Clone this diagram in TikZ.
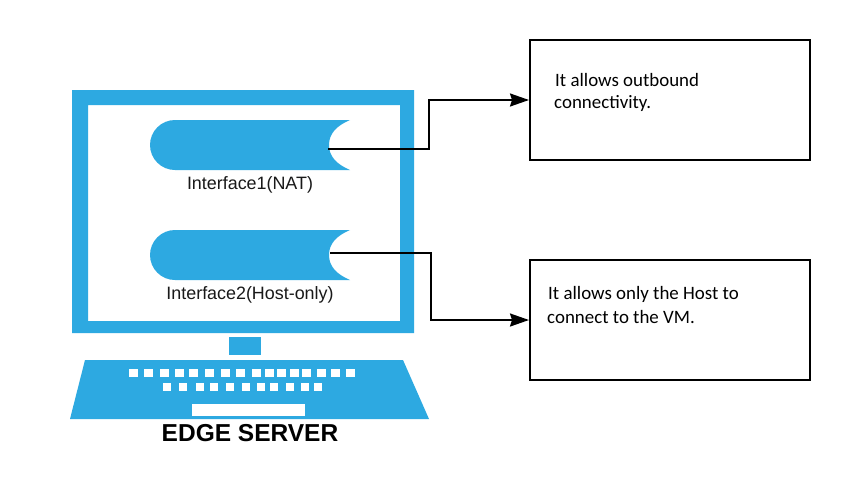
\documentclass[tikz,border=0pt]{standalone}
\usepackage{fontspec}
\setmainfont{Liberation Sans}
\newfontfamily\boxfont{Carlito}
\usetikzlibrary{arrows.meta,positioning}
\definecolor{srvblue}{HTML}{2DA9E1}
\tikzset{
  x=1pt,y=-1pt,
  blueshape/.style={fill=srvblue,draw=none},
  keycap/.style={fill=white,draw=none},
  infobox/.style={draw=black,line width=2pt,fill=white,minimum width=280pt,minimum height=120pt,inner sep=0pt,outer sep=0pt,anchor=north west},
  boxtext/.style={inner sep=0pt,anchor=west,font=\boxfont\fontsize{18.9}{22}\selectfont},
  ifacelabel/.style={inner sep=0pt,font=\fontsize{17.9}{21}\selectfont,text=black!90},
  link/.style={draw=black,line width=2pt,shorten >=1pt,-{Stealth[length=19pt,width=13pt,inset=2pt]}},
}
\begin{document}
\begin{tikzpicture}
\useasboundingbox (0,0) rectangle (850,490);
\fill[white] (0,0) rectangle (850,490);
% monitor
\fill[blueshape,even odd rule] (72,90) rectangle (414,333) (88,105) rectangle (400,321);
\fill[blueshape] (229,337) rectangle (261,355);
% keyboard
\fill[blueshape] (85,360) -- (403,360) -- (429,419) -- (70,419) -- cycle;
\foreach \k in {129,144,160,175,189,205,221,236,252,265,277,290,302,317,331,346}
  \fill[keycap] (\k,369) rectangle +(9,8);
\foreach \k in {163,179,196,210,226,242,257,270,286,301,314}
  \fill[keycap] (\k,383) rectangle +(8,8);
\fill[keycap] (192,404) rectangle (305,416);
% interfaces
\begin{scope}[shift={(0,120)}]
\fill[srvblue] (175,0) arc[start angle=270,end angle=90,radius=25] -- (350,50)
  .. controls (336,44) and (329,36) .. (329,25) .. controls (329,14) and (336,6) .. (350,0) -- cycle;
\end{scope}
\begin{scope}[shift={(0,230)}]
\fill[srvblue] (175,0) arc[start angle=270,end angle=90,radius=25] -- (350,50)
  .. controls (336,44) and (329,36) .. (329,25) .. controls (329,14) and (336,6) .. (350,0) -- cycle;
\end{scope}
\coordinate (if1) at (328,149);
\coordinate (if2) at (330,253);
\node[ifacelabel] (l1) at (250,184.5) {Interface1(NAT)};
\node[ifacelabel] (l2) at (250,294.5) {Interface2(Host-only)};
\node[inner sep=0pt,font=\bfseries\fontsize{24.5}{28}\selectfont] (title) at (250,433) {EDGE SERVER};
% boxes
\node[infobox] (b1) at (530,40) {};
\node[infobox] (b2) at (530,260) {};
\node[boxtext] (t1a) at (555,80) {It allows outbound};
\node[boxtext] (t1b) at (554,103) {connectivity.};
\node[boxtext] (t2a) at (548,294) {It allows only the Host to};
\node[boxtext] (t2b) at (547,317) {connect to the VM.};
% connectors
\coordinate (e1) at (429,149);
\coordinate (e2) at (431,253);
\draw[link] (if1) -- (e1) |- (b1.west);
\draw[link] (if2) -- (e2) |- (b2.west);
\end{tikzpicture}
\end{document}
